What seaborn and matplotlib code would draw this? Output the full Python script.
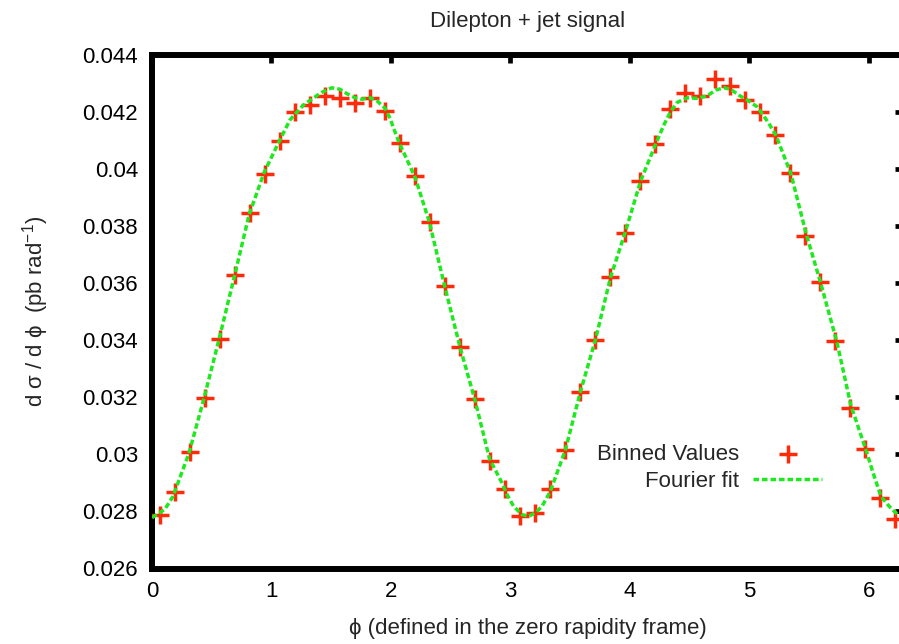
import matplotlib
matplotlib.use("Agg")
import matplotlib.pyplot as plt
import seaborn as sns
import pandas as pd

# ---------------- data ----------------
bin_centers = [0.0628, 0.1885, 0.3142, 0.4398, 0.5655, 0.6912, 0.8168, 0.9425, 1.0681, 1.1938,
               1.3195, 1.4451, 1.5708, 1.6965, 1.8221, 1.9478, 2.0735, 2.1991, 2.3248, 2.4504,
               2.5761, 2.7018, 2.8274, 2.9531, 3.0788, 3.2044, 3.3301, 3.4558, 3.5814, 3.7071,
               3.8327, 3.9584, 4.0841, 4.2097, 4.3354, 4.4611, 4.5867, 4.7124, 4.8381, 4.9637,
               5.0894, 5.2150, 5.3407, 5.4664, 5.5920, 5.7177, 5.8434, 5.9690, 6.0947, 6.2204]
binned_values = [0.02789, 0.02869, 0.03009, 0.03197, 0.03404, 0.03630, 0.03846, 0.03983, 0.04098, 0.04201,
                 0.04225, 0.04256, 0.04251, 0.04232, 0.04249, 0.04204, 0.04090, 0.03976, 0.03813, 0.03592,
                 0.03375, 0.03193, 0.02976, 0.02880, 0.02783, 0.02793, 0.02880, 0.03015, 0.03220, 0.03402,
                 0.03623, 0.03777, 0.03957, 0.04087, 0.04209, 0.04267, 0.04256, 0.04315, 0.04292, 0.04242,
                 0.04201, 0.04121, 0.03986, 0.03767, 0.03603, 0.03396, 0.03162, 0.03018, 0.02847, 0.02775]

fit_phi = [0.000, 0.1065, 0.176, 0.310, 0.436, 0.562, 0.693, 0.813, 0.939, 1.065,
           1.154, 1.196, 1.266, 1.336, 1.420, 1.504, 1.573, 1.629, 1.699, 1.755,
           1.825, 1.886, 1.951, 1.992, 2.034, 2.070, 2.202, 2.322, 2.448, 2.579,
           2.705, 2.825, 2.929, 2.971, 3.026, 3.096, 3.152, 3.208, 3.264, 3.334,
           3.459, 3.585, 3.711, 3.837, 3.962, 4.088, 4.214, 4.283, 4.339, 4.396,
           4.479, 4.563, 4.647, 4.717, 4.786, 4.842, 4.912, 4.982, 5.066, 5.163,
           5.225, 5.348, 5.474, 5.597, 5.731, 5.848, 5.983, 6.030, 6.100, 6.169,
           6.240, 6.2832]
fit_values = [0.02778, 0.02807, 0.02853, 0.03005, 0.03198, 0.03405, 0.03630, 0.03841, 0.03989, 0.04098,
              0.04172, 0.04192, 0.04224, 0.04245, 0.04269, 0.04285, 0.04280, 0.04265, 0.04250, 0.04245,
              0.04250, 0.04238, 0.04213, 0.04178, 0.04130, 0.04091, 0.03971, 0.03813, 0.03592, 0.03374,
              0.03187, 0.02984, 0.02900, 0.02859, 0.02818, 0.02789, 0.02783, 0.02795, 0.02818, 0.02871,
              0.03015, 0.03219, 0.03402, 0.03620, 0.03781, 0.03957, 0.04087, 0.04154, 0.04201, 0.04234,
              0.04250, 0.04248, 0.04257, 0.04277, 0.04285, 0.04280, 0.04259, 0.04242, 0.04218, 0.04160,
              0.04115, 0.03982, 0.03774, 0.03599, 0.03395, 0.03173, 0.03005, 0.02941, 0.02853, 0.02818,
              0.02789, 0.02778]

x_ticks = [0, 1, 2, 3, 4, 5, 6]
x_tick_labels = ["0", "1", "2", "3", "4", "5", "6"]
y_ticks = [0.026, 0.028, 0.030, 0.032, 0.034, 0.036, 0.038, 0.040, 0.042, 0.044]
y_tick_labels = ["0.026", "0.028", "0.03", "0.032", "0.034", "0.036", "0.038", "0.04", "0.042", "0.044"]

title_text = "Dilepton + jet signal"
x_label = "\u03d5 (defined in the zero rapidity frame)"
y_label = "d \u03c3 / d \u03d5  (pb rad$^{-1}$)"
label_points = "Binned Values"
label_fit = "Fourier fit"

# ---------------- style ----------------
sns.set_style("white")
plt.rcParams["font.family"] = ["Liberation Sans", "DejaVu Sans"]
plt.rcParams["mathtext.fontset"] = "custom"
plt.rcParams["mathtext.rm"] = "Liberation Sans"
plt.rcParams["mathtext.it"] = "Liberation Sans:italic"
plt.rcParams["mathtext.bf"] = "Liberation Sans:bold"

FS = 16

df_pts = pd.DataFrame({"phi": bin_centers, "val": binned_values})
df_fit = pd.DataFrame({"phi": fit_phi, "val": fit_values})

fig = plt.figure(figsize=(8.99, 6.44), dpi=100)
ax = fig.add_axes([152 / 899, (644 - 568.5) / 644, 750.8 / 899, 513.5 / 644])

sns.scatterplot(data=df_pts, x="phi", y="val", ax=ax, marker="+", s=165,
                color="#ff2a0a", linewidth=2.5, label=label_points, zorder=3)
sns.lineplot(data=df_fit, x="phi", y="val", ax=ax, color="#1ee81e", linewidth=2.5,
             linestyle=(0, (1.6, 0.85)), sort=False, estimator=None,
             label=label_fit, zorder=4)

ax.set_xlim(0, 6.2832)
ax.set_ylim(0.026, 0.044)
ax.set_xticks(x_ticks)
ax.set_xticklabels(x_tick_labels)
ax.set_yticks(y_ticks)
ax.set_yticklabels(y_tick_labels)

for side in ["left", "right", "top", "bottom"]:
    ax.spines[side].set_visible(True)
    ax.spines[side].set_linewidth(4.3)
    ax.spines[side].set_color("black")

ax.tick_params(axis="both", which="both", direction="in", length=6, width=3.4,
               color="black", labelsize=FS, top=True, right=True,
               labelcolor="black")
ax.tick_params(axis="y", pad=10)
ax.tick_params(axis="x", pad=9)

ax.set_title(title_text, fontsize=FS, pad=20)
ax.set_xlabel(x_label, fontsize=FS)
ax.set_ylabel(y_label, fontsize=FS)
ax.xaxis.set_label_coords(0.5, -0.097)
ax.yaxis.set_label_coords(-0.134, 0.5)

leg = ax.legend(loc="center right", bbox_to_anchor=(822 / 899, 1 - 468 / 644),
                bbox_transform=fig.transFigure, frameon=False, markerfirst=False,
                fontsize=FS, handlelength=3.1, handletextpad=0.65,
                labelspacing=0.25, borderpad=0, borderaxespad=0)

fig.savefig("out.png", dpi=100)
